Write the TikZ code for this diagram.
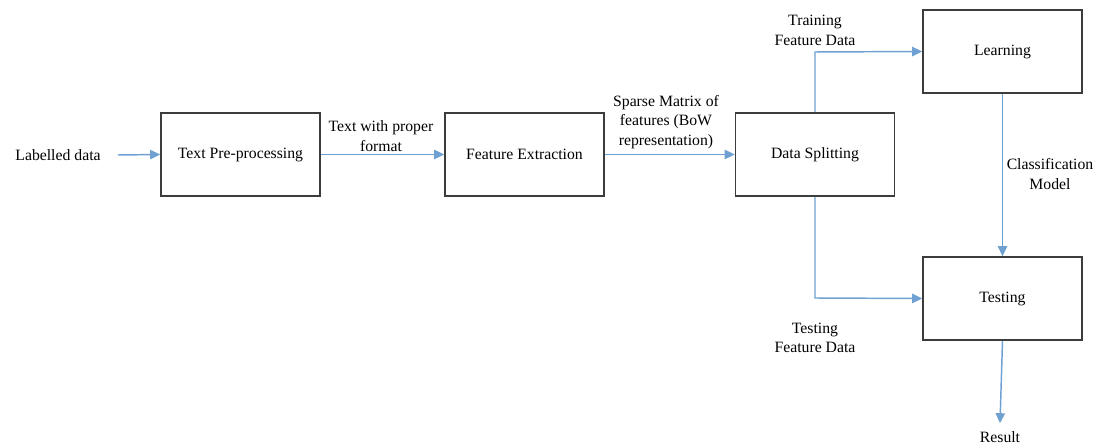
\documentclass[tikz,border=0pt]{standalone}
\usepackage{fontspec}
\setmainfont{Liberation Serif}
\newfontfamily\diagfont{Liberation Serif}
\usetikzlibrary{arrows.meta}
\definecolor{flow}{RGB}{110,160,210}
\definecolor{edge}{RGB}{60,60,60}
\begin{document}
\begin{tikzpicture}[x=0.75pt,y=-0.75pt,
  font=\diagfont\fontsize{11.8}{14.5}\selectfont,
  box/.style={draw=edge,line width=1.2pt,minimum width=119.25pt,minimum height=62.25pt,inner sep=0pt},
  lbl/.style={align=center,inner sep=0pt},
  flowarrow/.style={draw=flow,line width=1.1pt,-{Triangle[length=7.5pt,width=7pt]}}]
\useasboundingbox (0,0) rectangle (1099,448);
\node[lbl] (in) at (58,155) {Labelled data};
\node[box] (tp) at (240.5,154.5) {Text Pre-processing};
\node[box] (fe) at (524.5,154.5) {Feature Extraction};
\node[box] (ds) at (815,154.5) {Data Splitting};
\node[box] (le) at (1002.5,51.5) {Learning};
\node[box] (te) at (1002.5,298.5) {Testing};
\node[lbl] (res) at (1000,437) {Result};
\coordinate (inr) at (118,155);
\coordinate (up) at (815,52);
\coordinate (dn) at (815,298);
\node[lbl] (l1) at (381,136) {Text with proper\\format};
\node[lbl] (l2) at (666,122) {Sparse Matrix of\\features (BoW\\representation)};
\node[lbl] (l3) at (815,30.5) {Training\\Feature Data};
\node[lbl] (l4) at (815,338) {Testing\\Feature Data};
\node[lbl] (l5) at (1050,174) {Classification\\Model};
\draw[flowarrow] (inr) -- (tp.west);
\draw[flowarrow] (tp.east) -- (fe.west);
\draw[flowarrow] (fe.east) -- (ds.west);
\draw[flowarrow] (ds.north) -- (up) -- (le.west);
\draw[flowarrow] (ds.south) -- (dn) -- (te.west);
\draw[flowarrow] (le.south) -- (te.north);
\draw[flowarrow] (te.south) -- ([yshift=6pt]res.north);
\end{tikzpicture}
\end{document}
